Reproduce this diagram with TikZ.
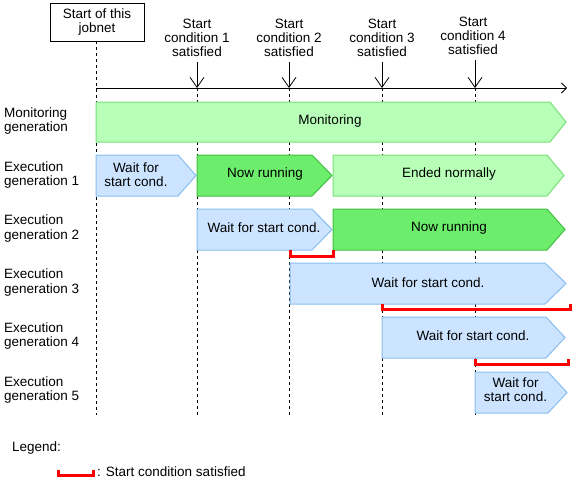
\documentclass[tikz,border=0pt]{standalone}
\usepackage{fontspec}
\setmainfont{Liberation Sans}
\usetikzlibrary{arrows.meta}
\definecolor{lgfill}{RGB}{184,255,184}
\definecolor{lgline}{RGB}{120,224,120}
\definecolor{dgfill}{RGB}{108,238,108}
\definecolor{dgline}{RGB}{64,190,64}
\definecolor{bfill}{RGB}{204,228,255}
\definecolor{bline}{RGB}{136,190,240}
\newcommand\pshape[6]{%
  \draw[#1] (#2,#5) -- (#3,#5) -- (#4,{(#5+#6)/2}) -- (#3,#6) -- (#2,#6) -- cycle;}
\begin{document}
\begin{tikzpicture}[x=1pt,y=-1pt,
  every node/.style={font=\fontsize{13.5}{14.2}\selectfont, inner sep=0pt, align=center},
  lg/.style={fill=lgfill, draw=lgline, line width=1pt},
  dg/.style={fill=dgfill, draw=dgline, line width=1pt},
  bl/.style={fill=bfill, draw=bline, line width=1pt},
  guide/.style={dash pattern=on 3pt off 3pt, line width=0.8pt},
  rowlab/.style={anchor=west, align=left},
  cond/.style={red, line width=3pt},
  evarrow/.style={line width=0.8pt, -{Straight Barb[length=10pt,width=14pt,line width=0.8pt]}}]
\useasboundingbox (0,0) rectangle (577,485);
% header box
\node[draw, line width=0.8pt, minimum width=94pt, minimum height=38pt] (start) at (97,22) {Start of this\\jobnet};
% guide lines
\coordinate (g0t) at (96,41);
\coordinate (g0b) at (96,415);
\foreach \i/\x in {1/197,2/289,3/382,4/475} {
  \coordinate (g\i t) at (\x,88);
  \coordinate (g\i b) at (\x,415);
}
\draw[guide] (g0t) -- (g0b);
\foreach \i in {1,2,3,4} { \draw[guide] (g\i t) -- (g\i b); }
% axis
\coordinate (axs) at (96,88);
\coordinate (axe) at (567,88);
\draw[line width=0.8pt, -{Straight Barb[length=5pt,width=10pt,line width=0.8pt]}] (axs) -- (axe);
% event labels
\node (l1) at (197,38) {Start\\condition 1\\satisfied};
\node (l2) at (289,38) {Start\\condition 2\\satisfied};
\node (l3) at (382,38) {Start\\condition 3\\satisfied};
\node (l4) at (473,36) {Start\\condition 4\\satisfied};
\draw[evarrow] (g1t |- 0,62) -- (g1t);
\draw[evarrow] (g2t |- 0,62) -- (g2t);
\draw[evarrow] (g3t |- 0,62) -- (g3t);
\draw[evarrow] (g4t |- 0,60) -- (g4t);
% row labels
\node[rowlab] (r0) at (4,121) {Monitoring\\generation};
\node[rowlab] (r1) at (4,175) {Execution\\generation 1};
\node[rowlab] (r2) at (4,228.5) {Execution\\generation 2};
\node[rowlab] (r3) at (4,282.5) {Execution\\generation 3};
\node[rowlab] (r4) at (4,336) {Execution\\generation 4};
\node[rowlab] (r5) at (4,390) {Execution\\generation 5};
% bars
\pshape{lg}{96}{550}{566}{102}{142}
\pshape{bl}{96}{178}{196}{155}{196}
\pshape{dg}{197}{312}{332}{155}{196}
\pshape{lg}{333}{547}{564}{155}{196}
\pshape{bl}{197}{312}{332}{209}{250}
\pshape{dg}{333}{547}{565}{209}{250}
\pshape{bl}{290}{545}{566}{263}{304}
\pshape{bl}{382}{546}{565}{317}{358}
\pshape{bl}{475}{548}{567}{372}{413}
% bar texts
\node (t0) at (330,121) {Monitoring};
\node (t1a) at (136,175) {Wait for\\start cond.};
\node (t1b) at (265,174) {Now running};
\node (t1c) at (449,174) {Ended normally};
\node (t2a) at (264,228) {Wait for start cond.};
\node (t2b) at (449,228) {Now running};
\node (t3) at (428,282.5) {Wait for start cond.};
\node (t4) at (473,336) {Wait for start cond.};
\node (t5) at (515.5,390) {Wait for\\start cond.};
% red brackets
\draw[cond] (290,250) -- (290,256) -- (333,256) -- (333,250);
\draw[cond] (382,304) -- (382,309) -- (570,309) -- (570,304);
\draw[cond] (475,359) -- (475,364) -- (568,364) -- (568,359);
% legend
\node[anchor=west] (leg) at (12,448) {Legend:};
\draw[cond] (58,470) -- (58,475) -- (93,475) -- (93,470);
\node[anchor=west] (legt) at (97,472) {: Start condition satisfied};
\end{tikzpicture}
\end{document}
